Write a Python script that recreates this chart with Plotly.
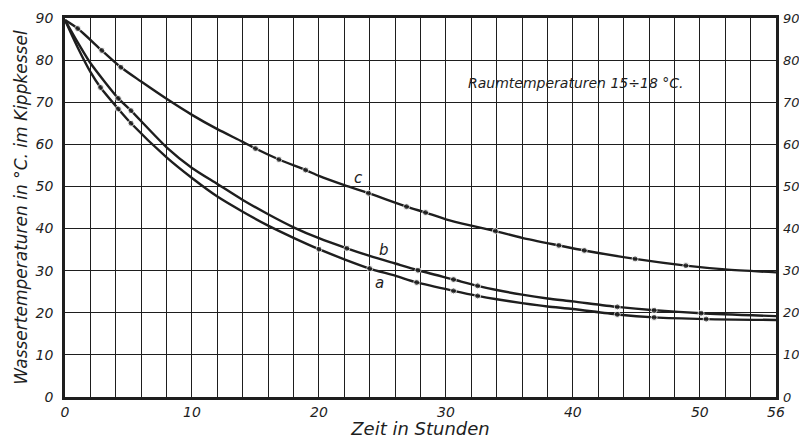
import plotly.graph_objects as go

# Curve a (lowest)
a_x   = [0, 1, 2, 2.8, 4.2, 5.2, 8, 10, 12, 14, 16, 18, 20.0, 22, 24.0, 26, 27.7, 30.6, 32.5, 34, 36, 38, 40, 43.5, 46.4, 50.5, 56]
a_y   = [89.5, 83.0, 77.2, 73.5, 68.4, 65.0, 56.9, 52.0, 47.6, 44.0, 40.7, 37.8, 35.1, 32.7, 30.5, 28.8, 27.2, 25.2, 24.0, 23.2, 22.3, 21.5, 20.9, 19.6, 18.9, 18.5, 18.3]
a_dot = [0, 0, 0, 1, 1, 1, 0, 0, 0, 0, 0, 0, 1, 0, 1, 0, 1, 1, 1, 0, 0, 0, 0, 1, 1, 1, 0]

# Curve b (middle)
b_x   = [0, 1, 2, 4.2, 5.2, 8, 10, 12, 14, 16, 18, 20, 22.2, 24, 26, 27.8, 30.6, 32.5, 34, 36, 38, 40, 43.5, 46.4, 50.1, 56]
b_y   = [89.5, 84.2, 79.3, 70.9, 68.0, 59.3, 54.4, 50.6, 46.8, 43.4, 40.3, 37.7, 35.3, 33.5, 31.7, 30.1, 27.9, 26.4, 25.4, 24.3, 23.4, 22.7, 21.4, 20.6, 19.9, 19.2]
b_dot = [0, 0, 0, 1, 1, 0, 0, 0, 0, 0, 0, 0, 1, 0, 0, 1, 1, 1, 0, 0, 0, 0, 1, 1, 1, 0]

# Curve c (top)
c_x   = [0, 1.0, 2.9, 4.4, 6, 8, 10, 12, 14, 15.0, 16.85, 18.95, 20, 22, 23.9, 26.9, 28.4, 30, 32, 33.9, 36, 38.9, 40.9, 44.9, 48.9, 52, 56]
c_y   = [89.5, 87.5, 82.3, 78.3, 74.9, 70.8, 67.0, 63.6, 60.6, 59.0, 56.4, 53.9, 52.5, 50.3, 48.4, 45.2, 43.8, 42.2, 40.7, 39.4, 37.8, 36.0, 34.8, 32.8, 31.2, 30.3, 29.6]
c_dot = [0, 1, 1, 1, 0, 0, 0, 0, 0, 1, 1, 1, 0, 0, 1, 1, 1, 0, 0, 1, 0, 1, 1, 1, 1, 0, 0]

x_ticks = [0, 10, 20, 30, 40, 50, 56]
y_ticks = [0, 10, 20, 30, 40, 50, 60, 70, 80, 90]

INK = "#1e1e1e"
FONT = dict(family="DejaVu Sans", size=14, color=INK, style="italic")

fig = go.Figure()
for xs, ys, dots in [(a_x, a_y, a_dot), (b_x, b_y, b_dot), (c_x, c_y, c_dot)]:
    fig.add_trace(go.Scatter(
        x=xs, y=ys, mode="lines+markers",
        line=dict(color=INK, width=2.4, shape="spline", smoothing=0.7),
        marker=dict(color=INK, size=[6 * d for d in dots]),
        showlegend=False, hoverinfo="skip",
    ))

# invisible trace for right axis
fig.add_trace(go.Scatter(x=[0], y=[0], yaxis="y2", mode="markers",
                         marker=dict(opacity=0), showlegend=False, hoverinfo="skip"))

# the page body has an 8px margin, so the figure is sized to fit the window
fig.update_layout(
    width=799, height=431,
    margin=dict(l=57, r=31, t=10, b=42),
    paper_bgcolor="white", plot_bgcolor="white",
    font=FONT,
    xaxis=dict(
        range=[0, 56], tickvals=x_ticks, ticktext=[str(v) for v in x_ticks],
        showgrid=True, gridcolor=INK, gridwidth=1.3,
        minor=dict(dtick=2, tick0=0, showgrid=True, gridcolor=INK, gridwidth=1.3),
        showline=True, linecolor=INK, linewidth=2.5, mirror=True,
        ticks="", zeroline=False, automargin=False,
        title=dict(text="Zeit in Stunden", font=dict(size=18, style="italic"), standoff=10),
        tickfont=FONT,
    ),
    yaxis=dict(
        range=[0, 90], tickvals=y_ticks,
        showgrid=True, gridcolor=INK, gridwidth=1.3,
        showline=True, linecolor=INK, linewidth=2.5, mirror=True,
        ticks="", zeroline=False, ticklabelstandoff=6, automargin=False,
        title=dict(text="Wassertemperaturen in °C. im Kippkessel",
                   font=dict(size=17, style="italic"), standoff=4),
        tickfont=FONT,
    ),
    yaxis2=dict(
        range=[0, 90], tickvals=y_ticks, overlaying="y", side="right",
        showgrid=False, zeroline=False, showline=False, ticks="",
        ticklabelstandoff=6, tickfont=dict(family="DejaVu Sans", size=13, color=INK, style="italic"),
        automargin=False,
    ),
    annotations=[
        dict(x=40.2, y=74.6, text="Raumtemperaturen 15÷18 °C.", showarrow=False,
             font=dict(size=14, style="italic", color=INK)),
        dict(x=23.1, y=52.0, text="c", showarrow=False, font=dict(size=15, style="italic", color=INK)),
        dict(x=25.1, y=34.9, text="b", showarrow=False, font=dict(size=15, style="italic", color=INK)),
        dict(x=24.8, y=27.0, text="a", showarrow=False, font=dict(size=15, style="italic", color=INK)),
    ],
)

fig.write_html("out.html")
